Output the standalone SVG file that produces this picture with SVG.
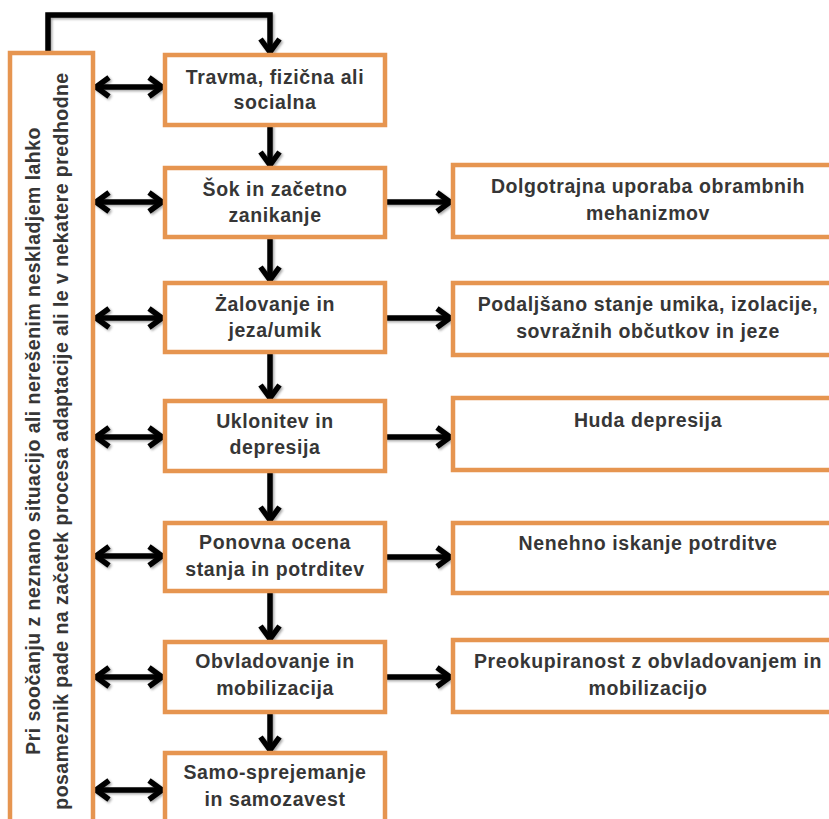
<svg xmlns="http://www.w3.org/2000/svg" width="829" height="819" viewBox="0 0 829 819">
  <style>
    .box { fill: #ffffff; stroke: #E69550; stroke-width: 4.5; }
    .t { font-family: "Liberation Sans", Arial, sans-serif; font-weight: bold; font-size: 19.5px; fill: #363636; letter-spacing: 0.6px; text-anchor: middle; }
    .v { letter-spacing: 0.45px; }
    .ln { fill: none; stroke: #000000; stroke-width: 5.5; }
  </style>
  <defs>
    <marker id="ah" markerUnits="userSpaceOnUse" markerWidth="22" markerHeight="26" viewBox="0 0 22 26" refX="19" refY="13" orient="auto-start-reverse">
      <path d="M5,3.5 L18,13 L5,22.5" fill="none" stroke="#000000" stroke-width="5.5" stroke-linejoin="miter"/>
    </marker>
    <filter id="sh" x="-20%" y="-20%" width="140%" height="140%">
      <feDropShadow dx="1.5" dy="1.5" stdDeviation="1.2" flood-color="#000000" flood-opacity="0.35"/>
    </filter>
  </defs>

  <g id="connectors" filter="url(#sh)">
    <path class="ln" d="M48,53 V15 H270 V53" marker-end="url(#ah)"/>
    <line class="ln" x1="270" y1="125" x2="270" y2="166" marker-end="url(#ah)"/>
    <line class="ln" x1="270" y1="237" x2="270" y2="281" marker-end="url(#ah)"/>
    <line class="ln" x1="270" y1="352" x2="270" y2="399" marker-end="url(#ah)"/>
    <line class="ln" x1="270" y1="471" x2="270" y2="521" marker-end="url(#ah)"/>
    <line class="ln" x1="270" y1="591" x2="270" y2="640" marker-end="url(#ah)"/>
    <line class="ln" x1="270" y1="712" x2="270" y2="751" marker-end="url(#ah)"/>
    <line class="ln" x1="385" y1="202" x2="451" y2="202" marker-end="url(#ah)"/>
    <line class="ln" x1="385" y1="318" x2="451" y2="318" marker-end="url(#ah)"/>
    <line class="ln" x1="385" y1="437" x2="451" y2="437" marker-end="url(#ah)"/>
    <line class="ln" x1="385" y1="557" x2="451" y2="557" marker-end="url(#ah)"/>
    <line class="ln" x1="385" y1="677" x2="451" y2="677" marker-end="url(#ah)"/>
    <line class="ln" x1="95" y1="87" x2="163" y2="87" marker-start="url(#ah)" marker-end="url(#ah)"/>
    <line class="ln" x1="95" y1="202" x2="163" y2="202" marker-start="url(#ah)" marker-end="url(#ah)"/>
    <line class="ln" x1="95" y1="318" x2="163" y2="318" marker-start="url(#ah)" marker-end="url(#ah)"/>
    <line class="ln" x1="95" y1="437" x2="163" y2="437" marker-start="url(#ah)" marker-end="url(#ah)"/>
    <line class="ln" x1="95" y1="556" x2="163" y2="556" marker-start="url(#ah)" marker-end="url(#ah)"/>
    <line class="ln" x1="95" y1="677" x2="163" y2="677" marker-start="url(#ah)" marker-end="url(#ah)"/>
    <line class="ln" x1="95" y1="790" x2="163" y2="790" marker-start="url(#ah)" marker-end="url(#ah)"/>
  </g>

  <g id="side">
    <rect class="box" x="10" y="53" width="83" height="800"/>
    <text class="t v" transform="translate(40,441) rotate(-90)">Pri soočanju z neznano situacijo ali nerešenim neskladjem lahko</text>
    <text class="t v" transform="translate(68,441) rotate(-90)">posameznik pade na začetek procesa adaptacije ali le v nekatere predhodne</text>
  </g>

  <g id="n1">
    <rect class="box" x="165" y="55" width="220" height="70"/>
    <text class="t" x="275" y="84">Travma, fizična ali</text>
    <text class="t" x="275" y="109">socialna</text>
  </g>
  <g id="n2">
    <rect class="box" x="165" y="168" width="220" height="69"/>
    <text class="t" x="275" y="196">Šok in začetno</text>
    <text class="t" x="275" y="222">zanikanje</text>
  </g>
  <g id="n3">
    <rect class="box" x="165" y="283" width="220" height="69"/>
    <text class="t" x="275" y="311">Żalovanje in</text>
    <text class="t" x="275" y="337">jeza/umik</text>
  </g>
  <g id="n4">
    <rect class="box" x="165" y="401" width="220" height="70"/>
    <text class="t" x="275" y="428">Uklonitev in</text>
    <text class="t" x="275" y="454">depresija</text>
  </g>
  <g id="n5">
    <rect class="box" x="165" y="523" width="220" height="68"/>
    <text class="t" x="275" y="549">Ponovna ocena</text>
    <text class="t" x="275" y="576">stanja in potrditev</text>
  </g>
  <g id="n6">
    <rect class="box" x="165" y="642" width="220" height="70"/>
    <text class="t" x="275" y="668">Obvladovanje in</text>
    <text class="t" x="275" y="695">mobilizacija</text>
  </g>
  <g id="n7">
    <rect class="box" x="165" y="753" width="220" height="80"/>
    <text class="t" x="275" y="779">Samo-sprejemanje</text>
    <text class="t" x="275" y="806">in samozavest</text>
  </g>

  <g id="r1">
    <rect class="box" x="453" y="165" width="389" height="72"/>
    <text class="t" x="648" y="193">Dolgotrajna uporaba obrambnih</text>
    <text class="t" x="648" y="220">mehanizmov</text>
  </g>
  <g id="r2">
    <rect class="box" x="453" y="283" width="389" height="72"/>
    <text class="t" x="648" y="311">Podaljšano stanje umika, izolacije,</text>
    <text class="t" x="648" y="338">sovražnih občutkov in jeze</text>
  </g>
  <g id="r3">
    <rect class="box" x="453" y="398" width="389" height="72"/>
    <text class="t" x="648" y="427">Huda depresija</text>
  </g>
  <g id="r4">
    <rect class="box" x="453" y="523" width="389" height="70"/>
    <text class="t" x="648" y="550">Nenehno iskanje potrditve</text>
  </g>
  <g id="r5">
    <rect class="box" x="453" y="640" width="389" height="72"/>
    <text class="t" x="648" y="668">Preokupiranost z obvladovanjem in</text>
    <text class="t" x="648" y="695">mobilizacijo</text>
  </g>
</svg>
